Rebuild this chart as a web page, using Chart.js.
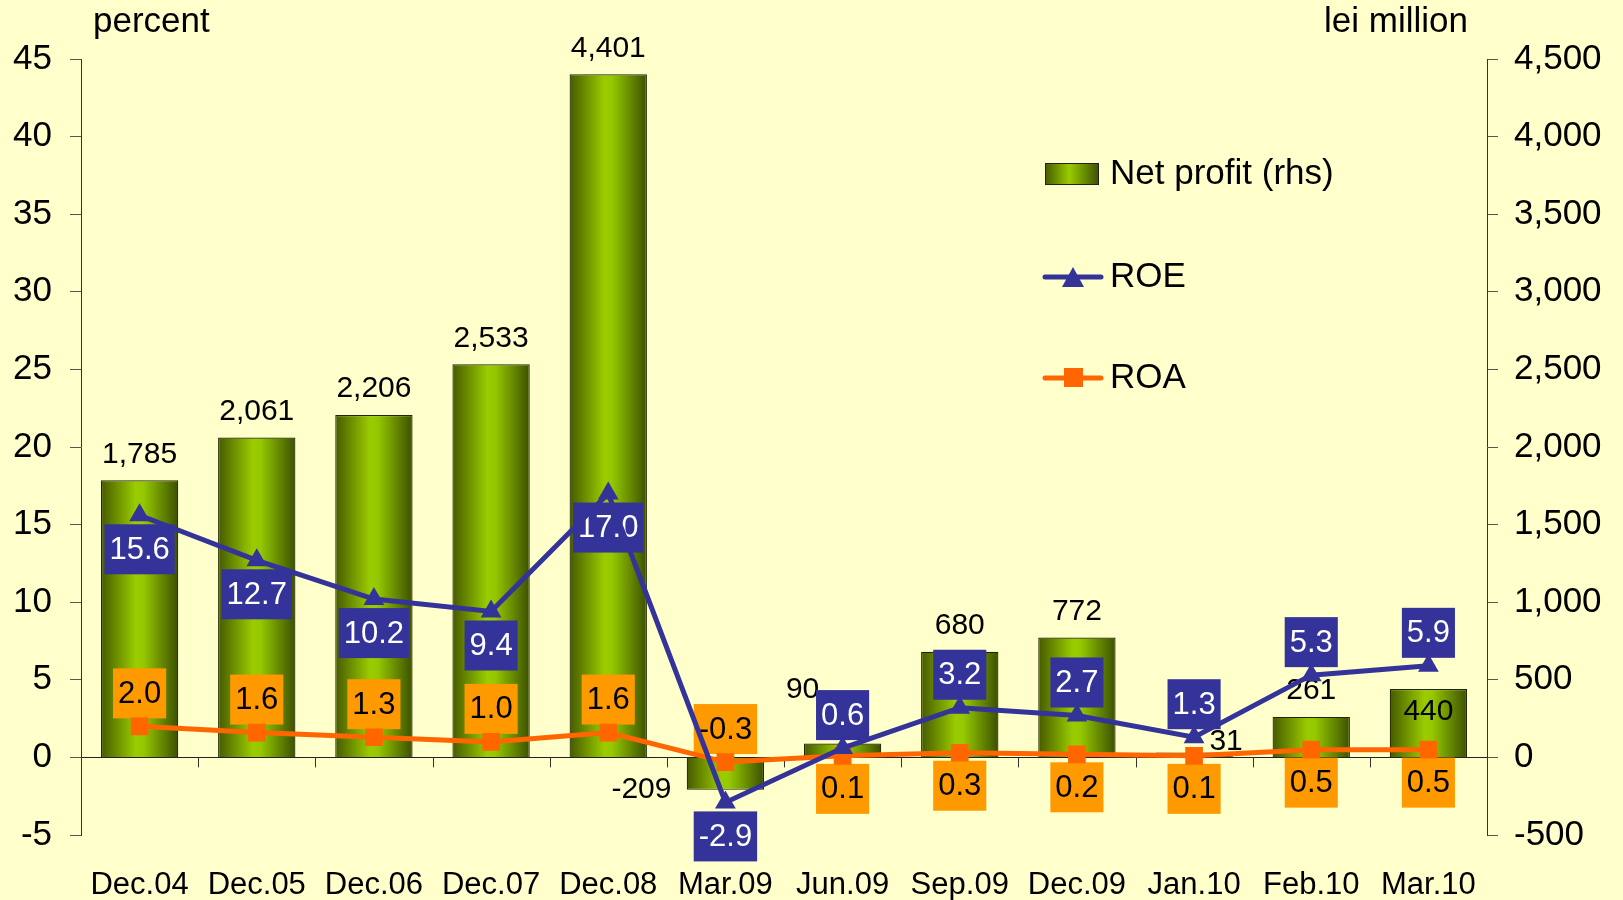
<!DOCTYPE html>
<html>
<head>
<meta charset="utf-8">
<script src="https://cdn.jsdelivr.net/npm/chart.js@4"></script>
<style>
  html, body { margin: 0; padding: 0; background: #ffffcc; }
  #wrap { position: relative; width: 1623px; height: 900px; }
</style>
</head>
<body>
<div id="wrap"><canvas id="profitChart"></canvas></div>
<script>
const categories = ['Dec.04', 'Dec.05', 'Dec.06', 'Dec.07', 'Dec.08', 'Mar.09', 'Jun.09', 'Sep.09', 'Dec.09', 'Jan.10', 'Feb.10', 'Mar.10'];
const netProfit = [1785, 2061, 2206, 2533, 4401, -209, 90, 680, 772, 31, 261, 440];
const roe = [15.6, 12.7, 10.2, 9.4, 17.0, -2.9, 0.6, 3.2, 2.7, 1.3, 5.3, 5.9];
const roa = [2.0, 1.6, 1.3, 1.0, 1.6, -0.3, 0.1, 0.3, 0.2, 0.1, 0.5, 0.5];
const leftTicks = [-5, 45, 5];      // min, max, step (percent)
const rightTicks = [-500, 4500, 500]; // min, max, step (lei million)

// where each label sits relative to its point
const roeLabelSide = ['below', 'below', 'below', 'below', 'below', 'below', 'above', 'above', 'above', 'above', 'above', 'above'];
const roaLabelSide = ['above', 'above', 'above', 'above', 'above', 'above', 'below', 'below', 'below', 'below', 'below', 'below'];
const profitLabelSide = ['top', 'top', 'top', 'top', 'top', 'left', 'left', 'top', 'top', 'right', 'top', 'inside'];

const FONT = '"Liberation Sans", Arial, sans-serif';
const BLUE = '#333399';
const ORANGE = '#ff6600';
const ORANGE_BOX = '#ff9900';
const BAR_PCT = 0.66;

const fmt = v => v.toLocaleString('en-US');

function barGradient(ctx) {
  const chart = ctx.chart;
  const x = chart.scales.x;
  if (!chart.chartArea || !x) return '#99cc00';
  const cx = x.getPixelForValue(ctx.dataIndex);
  const half = (x.width / categories.length) * BAR_PCT / 2;
  const g = chart.ctx.createLinearGradient(cx - half, 0, cx + half, 0);
  g.addColorStop(0, '#465a00');
  g.addColorStop(0.45, '#9acc00');
  g.addColorStop(0.55, '#95c800');
  g.addColorStop(1, '#3c5000');
  return g;
}

function boxLabel(c, text, x, y, fill, color) {
  c.font = '31px ' + FONT;
  const w = c.measureText(text).width + 10;
  const h = 50;
  c.fillStyle = fill;
  c.fillRect(x - w / 2, y - h / 2, w, h);
  c.fillStyle = color;
  c.textAlign = 'center';
  c.textBaseline = 'middle';
  c.fillText(text, x, y + 1);
}

const decorPlugin = {
  id: 'decor',
  beforeDraw(chart) {
    const c = chart.ctx;
    c.save();
    c.fillStyle = '#ffffcc';
    c.fillRect(0, 0, chart.width, chart.height);
    c.restore();
  },
  afterDatasetDraw(chart, args) {
    if (args.index !== 0) return;
    const c = chart.ctx;
    const x = chart.scales.x, yl = chart.scales.y, yr = chart.scales.y2;
    const y0 = yl.getPixelForValue(0);
    c.save();
    // category ticks on the zero line
    c.strokeStyle = '#333';
    c.lineWidth = 1;
    for (let i = 1; i < categories.length; i++) {
      const bx = Math.round((x.getPixelForValue(i - 1) + x.getPixelForValue(i)) / 2) + 0.5;
      c.beginPath();
      c.moveTo(bx, y0);
      c.lineTo(bx, y0 + 10);
      c.stroke();
    }
    // net profit labels
    c.font = '30px ' + FONT;
    c.fillStyle = '#000';
    c.textBaseline = 'middle';
    c.textAlign = 'center';
    netProfit.forEach((v, i) => {
      const cx = x.getPixelForValue(i);
      const top = yr.getPixelForValue(v);
      const side = profitLabelSide[i];
      let tx = cx, ty = top - 26;
      if (side === 'right') { tx = cx + 32; ty = top - 11; }
      if (side === 'inside') { ty = top + 23; }
      if (side === 'left' && v >= 0) { tx = cx - 40; ty = top - 54; }
      if (side === 'left' && v < 0) { tx = cx - 84; ty = top; }
      c.fillText(fmt(v), tx, ty);
    });
    // ROA and ROE boxes
    roa.forEach((v, i) => {
      const py = yl.getPixelForValue(v);
      const ty = roaLabelSide[i] === 'above' ? py - 33 : py + 33;
      boxLabel(c, v.toFixed(1), x.getPixelForValue(i), ty, ORANGE_BOX, '#000');
    });
    roe.forEach((v, i) => {
      const py = yl.getPixelForValue(v);
      const ty = roeLabelSide[i] === 'above' ? py - 33 : py + 34;
      boxLabel(c, v.toFixed(1), x.getPixelForValue(i), ty, BLUE, '#fff');
    });
    c.restore();
  },
  afterDraw(chart) {
    const c = chart.ctx;
    c.save();
    c.font = '35px ' + FONT;
    c.fillStyle = '#000';
    c.textBaseline = 'middle';
    c.textAlign = 'left';
    c.fillText('percent', 93, 22);
    c.textAlign = 'right';
    c.fillText('lei million', 1468, 22);

    // legend
    c.textAlign = 'left';
    const lx = 1045, tx = 1110;
    const g = c.createLinearGradient(lx, 0, lx + 54, 0);
    g.addColorStop(0, '#465a00');
    g.addColorStop(0.45, '#9acc00');
    g.addColorStop(1, '#3c5000');
    c.fillStyle = g;
    c.fillRect(lx, 163, 54, 22);
    c.strokeStyle = '#222';
    c.lineWidth = 1;
    c.strokeRect(lx + 0.5, 163.5, 53, 21);
    c.fillStyle = '#000';
    c.fillText('Net profit (rhs)', tx, 174);

    c.lineCap = 'round';
    c.lineWidth = 5;
    c.strokeStyle = BLUE;
    c.beginPath(); c.moveTo(lx, 277); c.lineTo(lx + 56, 277); c.stroke();
    c.fillStyle = BLUE;
    c.beginPath(); c.moveTo(lx + 28, 267); c.lineTo(lx + 39, 287); c.lineTo(lx + 17, 287); c.closePath(); c.fill();
    c.fillStyle = '#000';
    c.fillText('ROE', tx, 277);

    c.strokeStyle = ORANGE;
    c.beginPath(); c.moveTo(lx, 378); c.lineTo(lx + 56, 378); c.stroke();
    c.fillStyle = ORANGE;
    c.fillRect(lx + 19, 368, 19, 19);
    c.fillStyle = '#000';
    c.fillText('ROA', tx, 378);
    c.restore();
  }
};

Chart.defaults.font.family = FONT;
Chart.defaults.color = '#000';

new Chart(document.getElementById('profitChart'), {
  data: {
    labels: categories,
    datasets: [
      {
        type: 'bar', label: 'Net profit (rhs)', data: netProfit, yAxisID: 'y2', order: 3,
        backgroundColor: barGradient, borderColor: '#1f2600', borderWidth: 1.2,
        categoryPercentage: 1, barPercentage: BAR_PCT
      },
      {
        type: 'line', label: 'ROE', data: roe, yAxisID: 'y', order: 1,
        borderColor: BLUE, backgroundColor: BLUE, borderWidth: 5,
        pointStyle: 'triangle', pointRadius: 12, pointBorderWidth: 0, tension: 0
      },
      {
        type: 'line', label: 'ROA', data: roa, yAxisID: 'y', order: 2,
        borderColor: ORANGE, backgroundColor: ORANGE, borderWidth: 5,
        pointStyle: 'rect', pointRadius: 12.5, pointBorderWidth: 0, tension: 0
      }
    ]
  },
  options: {
    responsive: true,
    maintainAspectRatio: false,
    animation: false,
    layout: { padding: { top: 59, left: 0, right: 0, bottom: 0 } },
    plugins: { legend: { display: false }, tooltip: { enabled: false } },
    scales: {
      x: {
        grid: { display: false },
        border: { display: false },
        ticks: { font: { size: 31 }, color: '#000', padding: 24, maxRotation: 0, autoSkip: false },
        afterFit: s => { s.height = 65; }
      },
      y: {
        position: 'left',
        min: leftTicks[0], max: leftTicks[1],
        ticks: { stepSize: leftTicks[2], font: { size: 35 }, color: '#000', padding: 18 },
        grid: {
          color: c => c.tick && c.tick.value === 0 ? '#222' : 'rgba(0,0,0,0)',
          tickColor: '#555', tickLength: 11, lineWidth: 1
        },
        border: { display: true, color: '#333', width: 1 },
        afterFit: s => { s.width = 81; }
      },
      y2: {
        position: 'right',
        min: rightTicks[0], max: rightTicks[1],
        ticks: { stepSize: rightTicks[2], font: { size: 35 }, color: '#000', padding: 16, callback: v => fmt(v) },
        grid: { drawOnChartArea: false, tickColor: '#555', tickLength: 11 },
        border: { display: true, color: '#333', width: 1 },
        afterFit: s => { s.width = 136; }
      }
    }
  },
  plugins: [decorPlugin]
});
</script>
</body>
</html>
